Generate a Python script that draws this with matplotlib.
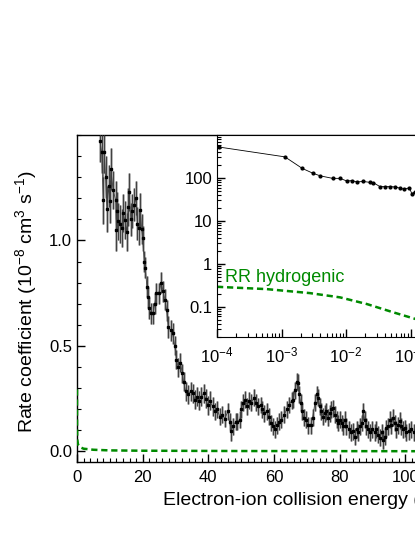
import matplotlib
matplotlib.use('Agg')
import matplotlib.pyplot as plt
from matplotlib.ticker import MultipleLocator, LogLocator, NullFormatter

plt.rcParams['font.family'] = ['Liberation Sans', 'DejaVu Sans']
plt.rcParams['mathtext.fontset'] = 'custom'
plt.rcParams['mathtext.rm'] = 'Liberation Sans'
plt.rcParams['mathtext.it'] = 'Liberation Sans:italic'

# measured rate coefficient (10^-8 cm^3 s^-1) vs energy (eV)
energy = [7.0, 7.5, 8.0, 8.3, 8.7, 9.1, 9.7, 10.0, 10.3, 11.0, 11.8, 12.0, 12.3, 12.6,
          13.1, 13.6, 14.1, 14.6, 15.1, 15.6, 15.9, 16.4, 16.8, 17.4, 17.9, 18.4, 18.9,
          19.3, 19.7, 20.0, 20.5, 20.8, 21.3, 21.7, 22.0, 22.5, 23.2, 23.7, 24.2, 24.9,
          25.7, 26.2, 26.8, 27.3, 27.8, 28.5, 29.1, 29.8, 30.3, 30.8, 31.5, 32.1, 32.5,
          33.1, 33.9, 34.6, 35.4, 35.9, 36.6, 37.2, 37.9, 38.6, 39.2, 39.9, 40.4, 41.3,
          42.0, 42.7, 43.5, 44.3, 45.0, 46.0, 46.5, 47.0, 47.5, 48.3, 48.9, 49.6, 50.1,
          50.6, 51.3, 51.9, 52.3, 53.1, 53.9, 54.6, 55.1, 56.1, 56.5, 57.0, 57.8, 58.5,
          59.1, 59.8, 60.3, 60.8, 61.5, 62.3, 63.2, 63.9, 64.6, 65.4, 65.9, 66.4, 66.9,
          67.4, 67.7, 68.2, 68.7, 69.1, 69.7, 70.5, 71.2, 71.8, 72.5, 73.0, 73.5, 74.0,
          74.5, 75.0, 75.5, 76.0, 76.5, 77.0, 77.5, 78.1, 78.6, 79.1, 79.6, 80.1, 80.6,
          81.1, 81.6, 82.1, 82.9, 83.6, 84.1, 84.6, 85.2, 85.7, 86.2, 86.7, 87.2, 87.7,
          88.2, 88.7, 89.4, 90.0, 90.7, 91.2, 91.7, 92.2, 92.8, 93.3, 93.8, 94.3, 94.8,
          95.3, 95.8, 96.3, 96.8, 97.3, 97.8, 98.3, 98.8, 99.3, 99.8, 100.4, 101.2, 101.9,
          102.6, 103.3, 104.0]
rate = [1.47, 1.42, 1.19, 1.42, 1.30, 1.15, 1.26, 1.185, 1.34, 1.24, 1.19, 1.05, 1.14, 1.09,
        1.08, 1.06, 1.13, 1.095, 1.04, 1.16, 1.23, 1.10, 1.14, 1.17, 1.20, 1.08, 1.06,
        1.145, 1.055, 1.01, 0.90, 0.87, 0.78, 0.73, 0.68, 0.655, 0.655, 0.70, 0.75, 0.75,
        0.80, 0.76, 0.72, 0.67, 0.59, 0.575, 0.56, 0.50, 0.435, 0.40, 0.42, 0.37, 0.33,
        0.285, 0.27, 0.285, 0.275, 0.245, 0.26, 0.24, 0.26, 0.275, 0.25, 0.22, 0.24, 0.215,
        0.19, 0.20, 0.165, 0.175, 0.155, 0.19, 0.14, 0.095, 0.12, 0.14, 0.14, 0.15, 0.20,
        0.23, 0.245, 0.215, 0.24, 0.23, 0.255, 0.23, 0.215, 0.22, 0.20, 0.18, 0.19, 0.165,
        0.135, 0.12, 0.105, 0.125, 0.14, 0.15, 0.175, 0.20, 0.22, 0.24, 0.245, 0.29, 0.33,
        0.325, 0.27, 0.23, 0.19, 0.16, 0.15, 0.125, 0.125, 0.16, 0.23, 0.27, 0.255, 0.215,
        0.19, 0.165, 0.18, 0.19, 0.16, 0.18, 0.20, 0.205, 0.175, 0.15, 0.135, 0.15, 0.135,
        0.12, 0.15, 0.12, 0.105, 0.09, 0.095, 0.07, 0.105, 0.09, 0.12, 0.135, 0.19, 0.15,
        0.12, 0.105, 0.09, 0.105, 0.09, 0.105, 0.08, 0.065, 0.09, 0.055, 0.07, 0.11, 0.12,
        0.15, 0.125, 0.16, 0.135, 0.105, 0.125, 0.145, 0.12, 0.105, 0.11, 0.09, 0.095, 0.105,
        0.09, 0.10, 0.095]
err = [0.10, 0.10, 0.11, 0.10, 0.10, 0.11, 0.10, 0.10, 0.10, 0.09, 0.09, 0.10, 0.09, 0.09,
       0.09, 0.09, 0.09, 0.09, 0.09, 0.09, 0.09, 0.08, 0.08, 0.08, 0.08, 0.08, 0.08,
       0.08, 0.07, 0.06, 0.05, 0.05, 0.05, 0.05, 0.05, 0.05, 0.05, 0.05, 0.05, 0.05,
       0.05, 0.05, 0.05, 0.05, 0.05, 0.05, 0.05, 0.045, 0.045, 0.045, 0.045, 0.045, 0.045,
       0.045, 0.045, 0.045, 0.045, 0.045, 0.045, 0.045, 0.045, 0.045, 0.045, 0.045, 0.045, 0.045,
       0.04, 0.04, 0.04, 0.04, 0.04, 0.04, 0.04, 0.045, 0.04, 0.04, 0.04, 0.04, 0.04,
       0.04, 0.04, 0.04, 0.04, 0.04, 0.04, 0.04, 0.04, 0.04, 0.04, 0.04, 0.04, 0.04,
       0.04, 0.04, 0.04, 0.04, 0.04, 0.04, 0.04, 0.04, 0.04, 0.04, 0.04, 0.04, 0.04,
       0.04, 0.04, 0.04, 0.04, 0.04, 0.04, 0.04, 0.04, 0.04, 0.04, 0.04, 0.04, 0.04,
       0.04, 0.04, 0.04, 0.04, 0.04, 0.04, 0.04, 0.04, 0.04, 0.04, 0.04, 0.04, 0.04,
       0.04, 0.04, 0.04, 0.04, 0.04, 0.04, 0.04, 0.04, 0.04, 0.04, 0.04, 0.04, 0.04,
       0.04, 0.04, 0.04, 0.04, 0.04, 0.04, 0.04, 0.04, 0.04, 0.045, 0.04, 0.04, 0.04,
       0.04, 0.04, 0.04, 0.04, 0.04, 0.04, 0.04, 0.04, 0.04, 0.04, 0.04, 0.04, 0.04,
       0.04, 0.04, 0.04]

# low-energy part (inset, log-log)
low_energy = [1.07e-4, 1.13e-3, 2.1e-3, 3.1e-3, 4.0e-3, 6.2e-3, 8.1e-3, 1.03e-2, 1.23e-2,
              1.47e-2, 1.86e-2, 2.35e-2, 2.65e-2, 3.36e-2, 4.0e-2, 4.8e-2, 5.7e-2, 6.9e-2,
              7.9e-2, 9.6e-2, 1.05e-1, 1.17e-1, 1.3e-1]
low_rate = [525, 310, 167, 128, 112, 98, 98, 85, 87, 81, 83, 79, 78, 63, 63, 63, 62, 58,
            55, 59, 43, 48, 45]

# RR hydrogenic
rr_energy = [1e-4, 5.9e-4, 2.75e-3, 8.1e-3, 2.1e-2, 5.4e-2, 1.17e-1, 0.3, 1.0, 2.0, 5.0,
             10.0, 20.0, 50.0, 100.0, 120.0]
rr_rate = [0.294, 0.26, 0.21, 0.167, 0.117, 0.075, 0.053, 0.033, 0.02, 0.013, 0.008,
           0.005, 0.0035, 0.002, 0.0012, 0.001]

green = '#008a00'

fig = plt.figure(figsize=(4.15, 5.37), dpi=100)
ax = fig.add_axes([77 / 415, 75 / 537, 361 / 415, 327 / 537])

ax.errorbar(energy, rate, yerr=err, fmt='none', ecolor='#a0a0a0', elinewidth=1.8, zorder=2)
ax.errorbar(energy, rate, yerr=err, fmt='none', ecolor='#303030', elinewidth=0.6, zorder=3)
ax.plot(energy, rate, color='#404040', lw=0.6, zorder=3)
ax.plot(energy, rate, ls='none', marker='s', ms=2, color='black', zorder=4)
ax.plot(rr_energy, rr_rate, color=green, lw=1.8, ls=(0, (2.5, 1.5)), zorder=5)

ax.set_xlim(0, 110)
ax.set_ylim(-0.05, 1.5)
ax.xaxis.set_major_locator(MultipleLocator(20))
ax.xaxis.set_minor_locator(MultipleLocator(2))
ax.set_yticks([0.0, 0.5, 1.0])
ax.set_yticklabels(['0.0', '0.5', '1.0'])
ax.yaxis.set_minor_locator(MultipleLocator(0.1))
ax.tick_params(which='both', direction='in', labelsize=12)
ax.tick_params(which='major', length=6, width=1)
ax.tick_params(which='minor', length=3, width=0.8)
ax.tick_params(axis='x', pad=6)
for s in ax.spines.values():
    s.set_linewidth(1)

fig.text(163 / 415, 1 - 505 / 537, 'Electron-ion collision energy (eV)', fontsize=14,
         ha='left', va='baseline')
fig.text(26 / 415, 1 - 302 / 537, 'Rate coefficient (10$^{-8}$ cm$^{3}$ s$^{-1}$)',
         fontsize=14, rotation=90, ha='center', va='center')

# inset
axi = fig.add_axes([217 / 415, 200 / 537, 258 / 415, 202 / 537])
axi.plot(low_energy, low_rate, color='black', lw=0.6, marker='o', ms=2)
axi.plot(rr_energy, rr_rate, color=green, lw=1.8, ls=(0, (2.5, 1.5)))
axi.set_xscale('log')
axi.set_yscale('log')
axi.set_xlim(1e-4, 1)
axi.set_ylim(0.02, 1000)
axi.set_yticks([0.1, 1, 10, 100])
axi.set_yticklabels(['0.1', '1', '10', '100'])
axi.yaxis.set_minor_locator(LogLocator(base=10, subs=range(2, 10), numticks=20))
axi.yaxis.set_minor_formatter(NullFormatter())
axi.xaxis.set_minor_locator(LogLocator(base=10, subs=range(2, 10), numticks=20))
axi.xaxis.set_minor_formatter(NullFormatter())
axi.tick_params(which='both', direction='in', labelsize=12)
axi.tick_params(which='major', length=6, width=1)
axi.tick_params(which='minor', length=3, width=0.8)
axi.tick_params(axis='x', pad=6)
axi.text(1.33e-4, 0.38, 'RR hydrogenic', color=green, fontsize=13, va='baseline')

fig.savefig('out.png', dpi=100)
